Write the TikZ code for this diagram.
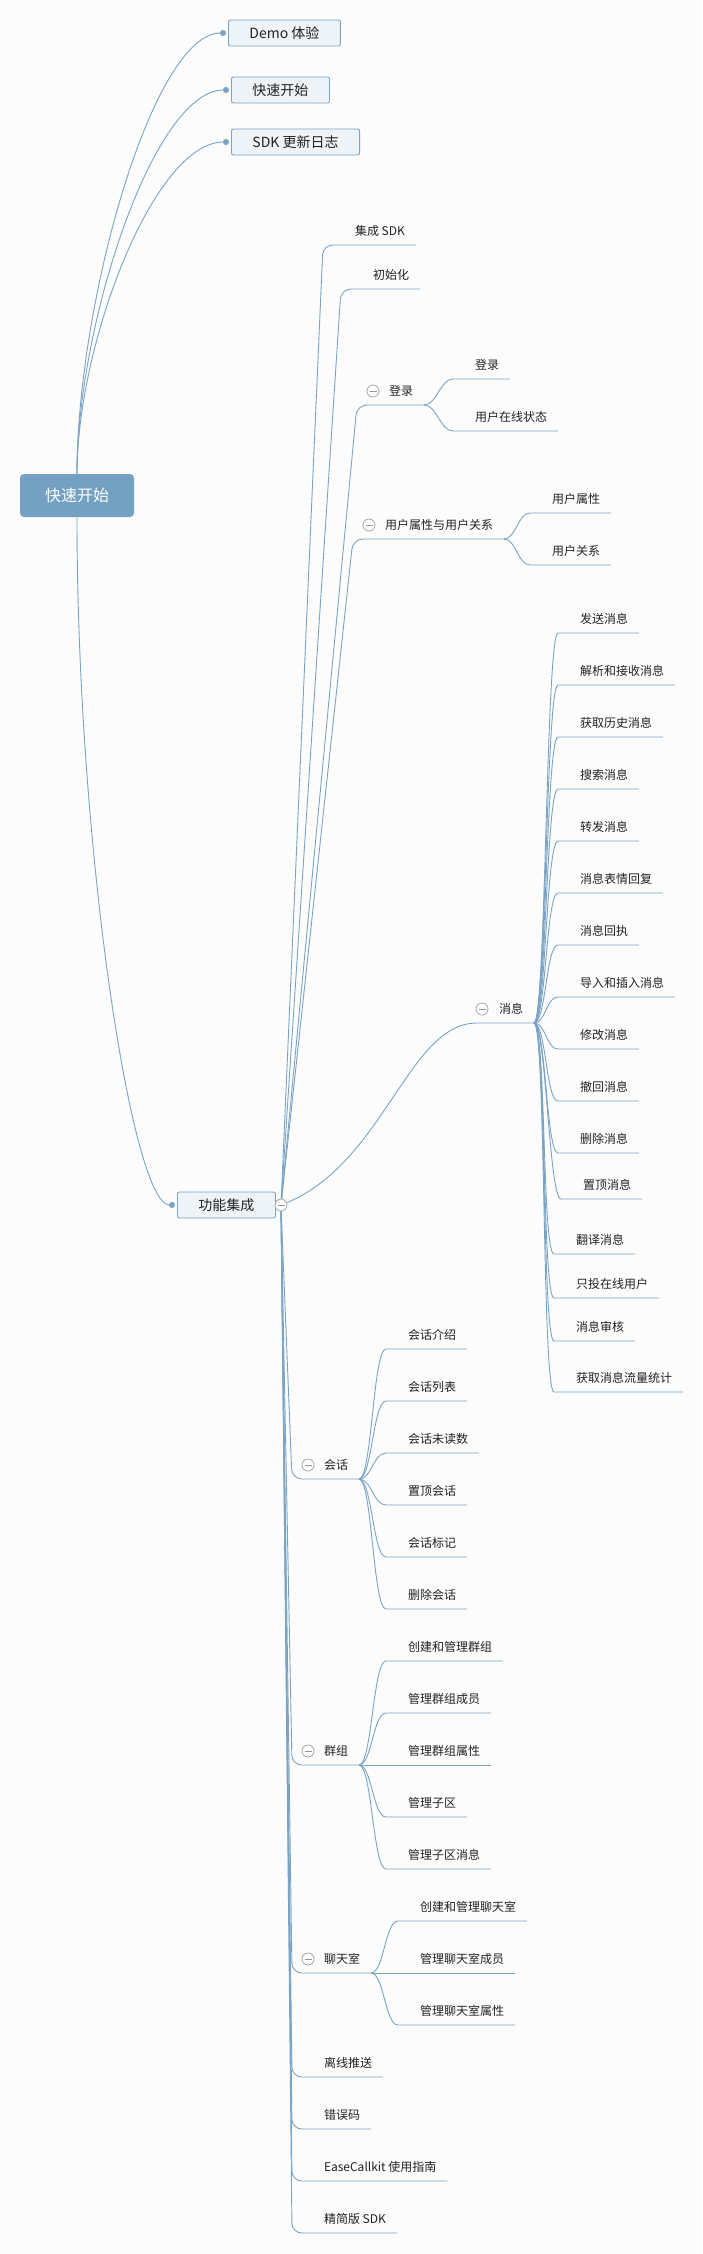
\documentclass[tikz,border=0pt]{standalone}
\usepackage{fontspec}
\setmainfont{Noto Sans CJK SC}
\usepackage{xcolor}
\usetikzlibrary{arrows.meta}

\definecolor{lk}{HTML}{7BA4C4}
\definecolor{boxfill}{HTML}{EEF3F7}
\definecolor{rootfill}{HTML}{74A1C1}
\definecolor{txt}{HTML}{222222}
\definecolor{bgc}{HTML}{FCFCFC}

\tikzset{
  link/.style={draw=lk, line width=0.9pt},
  dot/.style={-{Circle[length=6pt]}, shorten >=2pt},
  topic/.style={draw=lk, fill=boxfill, rounded corners=2pt, line width=0.9pt,
    inner xsep=21pt, minimum height=26pt, anchor=west, text=txt,
    font=\fontsize{14}{16}\selectfont, text height=12pt, text depth=1.4pt},
  roottopic/.style={fill=rootfill, rounded corners=4pt, minimum width=114pt,
    minimum height=43pt, text=white, font=\fontsize{16}{18}\selectfont,
    text height=13.5pt, text depth=1.3pt},
  leaf/.style={anchor=south west, inner xsep=11pt, inner ysep=0pt, outer sep=0pt,
    text depth=10pt, text=txt, font=\fontsize{12}{14}\selectfont,
    execute at begin node={\hspace*{11pt}}},
  fold/.style={circle, draw=gray!70, fill=white, line width=0.8pt, minimum size=12pt,
    inner sep=0pt, path picture={\draw[gray!80, line width=0.8pt]
      ([xshift=-3.5pt]path picture bounding box.center) --
      ([xshift=3.5pt]path picture bounding box.center);}}
}

\begin{document}
\begin{tikzpicture}[x=1pt, y=-1pt]
        \useasboundingbox (0,0) rectangle (702,2254);
        \fill[bgc] (0,0) rectangle (702,2254);

        % main topics
        \node[roottopic](root) at (77,495.5) {快速开始};
        \node[topic](demo) at (228,33) {Demo 体验};
        \node[topic](start) at (231,90) {快速开始};
        \node[topic](notes) at (231,142) {SDK 更新日志};
        \node[topic](func) at (177,1205) {功能集成};
        \coordinate(fc) at (281,1205);

        % 功能集成
        \node[leaf](sdk) at (333,245) {集成 SDK};
        \node[leaf](init) at (351,289) {初始化};
        \node[leaf](login) at (367,405) {登录};
        \node[leaf](user) at (363,539) {用户属性与用户关系};
        \node[leaf](msg) at (477,1023) {消息};
        \node[leaf](conv) at (302,1479) {会话};
        \node[leaf](group) at (302,1765) {群组};
        \node[leaf](room) at (302,1973) {聊天室};
        \node[leaf](push) at (302,2077) {离线推送};
        \node[leaf](err) at (302,2129) {错误码};
        \node[leaf](call) at (302,2181) {EaseCallkit 使用指南};
        \node[leaf](lite) at (302,2233) {精简版 SDK};

        \node[leaf](login1) at (453,379) {登录};
        \node[leaf](login2) at (453,431) {用户在线状态};
        \node[leaf](user1) at (530,513) {用户属性};
        \node[leaf](user2) at (530,565) {用户关系};

        \node[leaf](m1) at (558,633) {发送消息};
        \node[leaf](m2) at (558,685) {解析和接收消息};
        \node[leaf](m3) at (558,737) {获取历史消息};
        \node[leaf](m4) at (558,789) {搜索消息};
        \node[leaf](m5) at (558,841) {转发消息};
        \node[leaf](m6) at (558,893) {消息表情回复};
        \node[leaf](m7) at (558,945) {消息回执};
        \node[leaf](m8) at (558,997) {导入和插入消息};
        \node[leaf](m9) at (558,1049) {修改消息};
        \node[leaf](m10) at (558,1101) {撤回消息};
        \node[leaf](m11) at (558,1153) {删除消息};
        \node[leaf](m12) at (561,1199) {置顶消息};
        \node[leaf](m13) at (554,1254) {翻译消息};
        \node[leaf](m14) at (554,1298) {只投在线用户};
        \node[leaf](m15) at (554,1341) {消息审核};
        \node[leaf](m16) at (554,1392) {获取消息流量统计};

        \node[leaf](c1) at (386,1349) {会话介绍};
        \node[leaf](c2) at (386,1401) {会话列表};
        \node[leaf](c3) at (386,1453) {会话未读数};
        \node[leaf](c4) at (386,1505) {置顶会话};
        \node[leaf](c5) at (386,1557) {会话标记};
        \node[leaf](c6) at (386,1609) {删除会话};

        \node[leaf](g1) at (386,1661) {创建和管理群组};
        \node[leaf](g2) at (386,1713) {管理群组成员};
        \node[leaf](g3) at (386,1765) {管理群组属性};
        \node[leaf](g4) at (386,1817) {管理子区};
        \node[leaf](g5) at (386,1869) {管理子区消息};

        \node[leaf](r1) at (398,1921) {创建和管理聊天室};
        \node[leaf](r2) at (398,1973) {管理聊天室成员};
        \node[leaf](r3) at (398,2025) {管理聊天室属性};

        % root links
        \draw[link,dot](root.north) .. controls +(0,-172) and +(-75,0) .. (demo.west);
        \draw[link,dot](root.north) .. controls +(0,-150) and +(-77,0) .. (start.west);
        \draw[link,dot](root.north) .. controls +(0,-130) and +(-77,0) .. (notes.west);
        \draw[link,dot](root.south) .. controls +(0,330) and +(-45,0) .. (func.west);

        % 功能集成 links
        \draw[link,rounded corners=10pt](fc) -- ([xshift=-10pt]sdk.south west) -- (sdk.south east);
        \draw[link,rounded corners=10pt](fc) -- ([xshift=-10pt]init.south west) -- (init.south east);
        \draw[link,rounded corners=10pt](fc) -- ([xshift=-10pt]login.south west) -- (login.south east);
        \draw[link,rounded corners=10pt](fc) -- ([xshift=-10pt]user.south west) -- (user.south east);
        \draw[link](fc) .. controls +(103,-38) and +(-70,0) .. (msg.south west) -- (msg.south east);
        \draw[link,rounded corners=10pt](fc) -- ([xshift=-10pt]conv.south west) -- (conv.south east);
        \draw[link,rounded corners=10pt](fc) -- ([xshift=-10pt]group.south west) -- (group.south east);
        \draw[link,rounded corners=10pt](fc) -- ([xshift=-10pt]room.south west) -- (room.south east);
        \draw[link,rounded corners=10pt](fc) -- ([xshift=-10pt]push.south west) -- (push.south east);
        \draw[link,rounded corners=10pt](fc) -- ([xshift=-10pt]err.south west) -- (err.south east);
        \draw[link,rounded corners=10pt](fc) -- ([xshift=-10pt]call.south west) -- (call.south east);
        \draw[link,rounded corners=10pt](fc) -- ([xshift=-10pt]lite.south west) -- (lite.south east);

        % sub links
        \draw[link](login.south east) .. controls +(13,0) and +(-13,0) .. (login1.south west) -- (login1.south east);
        \draw[link](login.south east) .. controls +(13,0) and +(-13,0) .. (login2.south west) -- (login2.south east);
        \draw[link](user.south east) .. controls +(12,0) and +(-12,0) .. (user1.south west) -- (user1.south east);
        \draw[link](user.south east) .. controls +(12,0) and +(-12,0) .. (user2.south west) -- (user2.south east);

        \draw[link](msg.south east) .. controls +(12,0) and +(-12,0) .. (m1.south west) -- (m1.south east);
        \draw[link](msg.south east) .. controls +(12,0) and +(-12,0) .. (m2.south west) -- (m2.south east);
        \draw[link](msg.south east) .. controls +(12,0) and +(-12,0) .. (m3.south west) -- (m3.south east);
        \draw[link](msg.south east) .. controls +(12,0) and +(-12,0) .. (m4.south west) -- (m4.south east);
        \draw[link](msg.south east) .. controls +(12,0) and +(-12,0) .. (m5.south west) -- (m5.south east);
        \draw[link](msg.south east) .. controls +(12,0) and +(-12,0) .. (m6.south west) -- (m6.south east);
        \draw[link](msg.south east) .. controls +(12,0) and +(-12,0) .. (m7.south west) -- (m7.south east);
        \draw[link](msg.south east) .. controls +(12,0) and +(-12,0) .. (m8.south west) -- (m8.south east);
        \draw[link](msg.south east) .. controls +(12,0) and +(-12,0) .. (m9.south west) -- (m9.south east);
        \draw[link](msg.south east) .. controls +(12,0) and +(-12,0) .. (m10.south west) -- (m10.south east);
        \draw[link](msg.south east) .. controls +(12,0) and +(-12,0) .. (m11.south west) -- (m11.south east);
        \draw[link](msg.south east) .. controls +(12,0) and +(-12,0) .. (m12.south west) -- (m12.south east);
        \draw[link](msg.south east) .. controls +(12,0) and +(-12,0) .. (m13.south west) -- (m13.south east);
        \draw[link](msg.south east) .. controls +(12,0) and +(-12,0) .. (m14.south west) -- (m14.south east);
        \draw[link](msg.south east) .. controls +(12,0) and +(-12,0) .. (m15.south west) -- (m15.south east);
        \draw[link](msg.south east) .. controls +(12,0) and +(-12,0) .. (m16.south west) -- (m16.south east);

        \draw[link](conv.south east) .. controls +(13,0) and +(-13,0) .. (c1.south west) -- (c1.south east);
        \draw[link](conv.south east) .. controls +(13,0) and +(-13,0) .. (c2.south west) -- (c2.south east);
        \draw[link](conv.south east) .. controls +(13,0) and +(-13,0) .. (c3.south west) -- (c3.south east);
        \draw[link](conv.south east) .. controls +(13,0) and +(-13,0) .. (c4.south west) -- (c4.south east);
        \draw[link](conv.south east) .. controls +(13,0) and +(-13,0) .. (c5.south west) -- (c5.south east);
        \draw[link](conv.south east) .. controls +(13,0) and +(-13,0) .. (c6.south west) -- (c6.south east);

        \draw[link](group.south east) .. controls +(13,0) and +(-13,0) .. (g1.south west) -- (g1.south east);
        \draw[link](group.south east) .. controls +(13,0) and +(-13,0) .. (g2.south west) -- (g2.south east);
        \draw[link](group.south east) .. controls +(13,0) and +(-13,0) .. (g3.south west) -- (g3.south east);
        \draw[link](group.south east) .. controls +(13,0) and +(-13,0) .. (g4.south west) -- (g4.south east);
        \draw[link](group.south east) .. controls +(13,0) and +(-13,0) .. (g5.south west) -- (g5.south east);

        \draw[link](room.south east) .. controls +(13,0) and +(-13,0) .. (r1.south west) -- (r1.south east);
        \draw[link](room.south east) .. controls +(13,0) and +(-13,0) .. (r2.south west) -- (r2.south east);
        \draw[link](room.south east) .. controls +(13,0) and +(-13,0) .. (r3.south west) -- (r3.south east);

        % fold marks
        \node[fold](funcf) at (fc) {};
        \node[fold](loginf) at ([xshift=6pt,yshift=14pt]login.south west) {};
        \node[fold](userf) at ([xshift=6pt,yshift=14pt]user.south west) {};
        \node[fold](msgf) at ([xshift=5pt,yshift=14pt]msg.south west) {};
        \node[fold](convf) at ([xshift=6pt,yshift=14pt]conv.south west) {};
        \node[fold](groupf) at ([xshift=6pt,yshift=14pt]group.south west) {};
        \node[fold](roomf) at ([xshift=6pt,yshift=14pt]room.south west) {};
\end{tikzpicture}
\end{document}
